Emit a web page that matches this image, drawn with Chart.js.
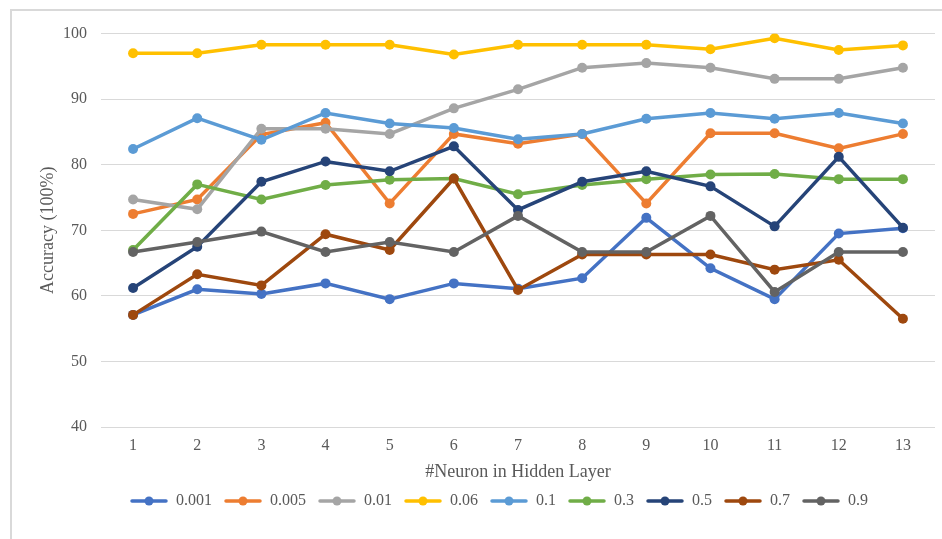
<!DOCTYPE html>
<html>
<head>
<meta charset="utf-8">
<script src="https://cdn.jsdelivr.net/npm/chart.js@4/dist/chart.umd.min.js"></script>
<style>
  html, body { margin: 0; padding: 0; background: #ffffff; overflow: hidden; }
  body { width: 942px; height: 539px; position: relative; }
  #frame {
    position: absolute; left: 10px; top: 9px; width: 1000px; height: 600px;
    border-left: 2px solid #d9d9d9; border-top: 2px solid #d9d9d9;
  }
  #wrap { position: absolute; left: 11px; top: 10px; width: 976px; height: 529px; }
</style>
</head>
<body>
<div id="frame"></div>
<div id="wrap"><canvas id="chart"></canvas></div>
<script>
// Number of neurons in the hidden layer (x categories)
const neurons = ['1', '2', '3', '4', '5', '6', '7', '8', '9', '10', '11', '12', '13'];

// Learning-rate series names
const rates = ['0.001', '0.005', '0.01', '0.06', '0.1', '0.3', '0.5', '0.7', '0.9'];

// Accuracy (%) per learning rate
const acc0001 = [57.1, 61.0, 60.3, 61.9, 59.5, 61.9, 61.1, 62.7, 71.9, 64.2, 59.5, 69.5, 70.3];
const acc0005 = [72.5, 74.7, 84.6, 86.4, 74.1, 84.7, 83.2, 84.7, 74.1, 84.8, 84.8, 82.5, 84.7];
const acc001  = [74.7, 73.2, 85.5, 85.5, 84.7, 88.6, 91.5, 94.8, 95.5, 94.8, 93.1, 93.1, 94.8];
const acc006  = [97.0, 97.0, 98.3, 98.3, 98.3, 96.8, 98.3, 98.3, 98.3, 97.6, 99.3, 97.5, 98.2];
const acc01   = [82.4, 87.1, 83.8, 87.9, 86.3, 85.6, 83.9, 84.7, 87.0, 87.9, 87.0, 87.9, 86.3];
const acc03   = [67.0, 77.0, 74.7, 76.9, 77.7, 77.9, 75.5, 76.9, 77.8, 78.5, 78.6, 77.8, 77.8];
const acc05   = [61.2, 67.5, 77.4, 80.5, 79.0, 82.8, 73.1, 77.4, 79.0, 76.7, 70.6, 81.2, 70.4];
const acc07   = [57.1, 63.3, 61.6, 69.4, 67.0, 77.9, 60.9, 66.3, 66.3, 66.3, 64.0, 65.5, 56.5];
const acc09   = [66.7, 68.2, 69.8, 66.7, 68.2, 66.7, 72.2, 66.7, 66.7, 72.2, 60.6, 66.7, 66.7];

// Y-axis tick range
const yMin = 40, yMax = 100, yStep = 10;

const seriesValues = [acc0001, acc0005, acc001, acc006, acc01, acc03, acc05, acc07, acc09];
const seriesColors = ['#4472C4', '#ED7D31', '#A5A5A5', '#FFC000', '#5B9BD5', '#70AD47', '#264478', '#9E480E', '#636363'];

const FONT = "'Liberation Serif', 'Times New Roman', serif";
const TEXT = '#595959';

// Legend symbol: short line with a dot in the middle
function legendSymbol(color) {
  const c = document.createElement('canvas');
  c.width = 38; c.height = 12;
  const g = c.getContext('2d');
  g.strokeStyle = color; g.lineWidth = 3.5; g.lineCap = 'round';
  g.beginPath(); g.moveTo(2, 6); g.lineTo(36, 6); g.stroke();
  g.fillStyle = color;
  g.beginPath(); g.arc(19, 6, 4.5, 0, Math.PI * 2); g.fill();
  return c;
}
const symbols = seriesColors.map(legendSymbol);

const datasets = rates.map((name, i) => ({
  label: name,
  data: seriesValues[i],
  borderColor: seriesColors[i],
  backgroundColor: seriesColors[i],
  borderWidth: 3.5,
  pointRadius: 5,
  pointHoverRadius: 5,
  pointBorderWidth: 0,
  pointBackgroundColor: seriesColors[i],
  tension: 0,
  order: rates.length - i   // later series drawn on top
}));

// Nudge the legend row to the right of the canvas centre
const legendShift = {
  id: 'legendShift',
  afterLayout(chart) {
    const lg = chart.legend;
    if (lg) { lg.left += 13; lg.right += 13; }
  }
};

new Chart(document.getElementById('chart'), {
  type: 'line',
  data: { labels: neurons, datasets },
  plugins: [legendShift],
  options: {
    responsive: true,
    maintainAspectRatio: false,
    animation: false,
    layout: { padding: { left: 26, right: 52, top: 19, bottom: 20 } },
    scales: {
      x: {
        offset: true,
        grid: { display: false, drawTicks: false },
        border: { display: false },
        ticks: { color: TEXT, font: { family: FONT, size: 16 }, padding: 9, maxRotation: 0 },
        title: {
          display: true, text: '#Neuron in Hidden Layer', color: TEXT,
          font: { family: FONT, size: 18, lineHeight: 1 }, padding: 0
        },
        afterFit: (s) => { s.height = 54; }
      },
      y: {
        min: yMin, max: yMax,
        grid: { color: '#d9d9d9', lineWidth: 1, drawTicks: false },
        border: { display: false },
        ticks: { stepSize: yStep, color: TEXT, font: { family: FONT, size: 16 }, padding: 14 },
        title: {
          display: true, text: 'Accuracy (100%)', color: TEXT,
          font: { family: FONT, size: 18, lineHeight: 1.2 }, padding: 0
        },
        afterFit: (s) => { s.width = 64; }
      }
    },
    plugins: {
      tooltip: { enabled: false },
      legend: {
        position: 'bottom',
        labels: {
          usePointStyle: true,
          pointStyleWidth: 38,
          padding: 12,
          color: TEXT,
          font: { family: FONT, size: 16, lineHeight: 1 },
          sort: (a, b) => a.datasetIndex - b.datasetIndex,
          generateLabels: (chart) => {
            const items = Chart.defaults.plugins.legend.labels.generateLabels(chart);
            items.forEach(it => { it.pointStyle = symbols[it.datasetIndex]; });
            return items;
          }
        }
      }
    }
  }
});
</script>
</body>
</html>
